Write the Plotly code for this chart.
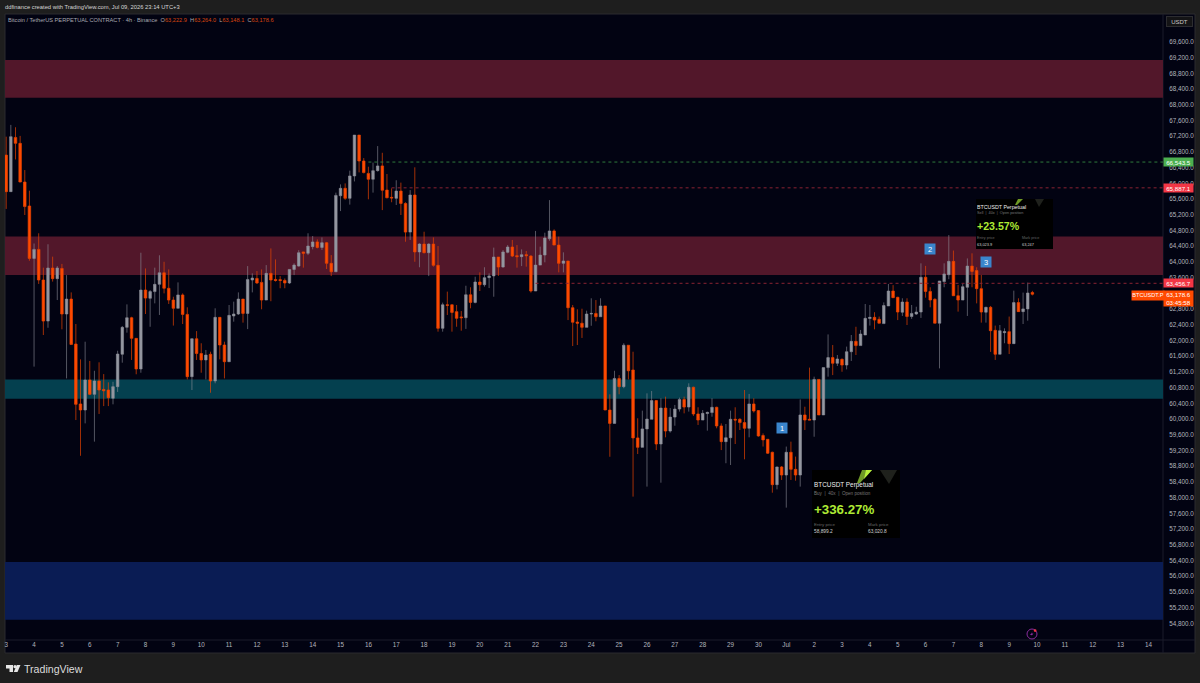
import pandas as pd
import plotly.graph_objects as go
from datetime import datetime, timedelta

# BTCUSDT perpetual, 4h bars starting 3 June 2026
opens = [
    66720, 65790, 67170, 67020, 66035, 65425, 64090, 64320, 63540, 62495,
    63845, 63575, 63835, 62675, 63055, 61910, 60385, 60230, 60995, 60630,
    60970, 60755, 60740, 60530, 60825, 61650, 62335, 62580, 62055, 61275,
    63285, 63075, 63245, 63430, 63725, 63330, 63030, 62820, 63160, 62665,
    61080, 62045, 61670, 61505, 61650, 60970, 62590, 61885, 61460, 62625,
    62675, 63055, 62690, 63540, 63580, 63480, 63030, 63710, 63555, 63550,
    63530, 63465, 63810, 63895, 64255, 64220, 64390, 64510, 64370, 64490,
    63965, 63750, 65685, 65875, 65620, 66190, 67230, 66570, 66255, 66105,
    66325, 66445, 65830, 65645, 65620, 65805, 65490, 64760, 65705, 64255,
    64455, 64235, 64455, 63915, 62310, 62910, 62910, 62735, 62600, 62580,
    63165, 62970, 63490, 63420, 63600, 63645, 64125, 63870, 64245, 64380,
    64160, 64135, 64185, 64150, 63260, 63920, 64175, 64590, 64790, 64430,
    63965, 64025, 62835, 62470, 62440, 62335, 62675, 62690, 62605, 62880,
    60230, 59890, 61035, 60825, 61880, 61250, 59520, 59280, 59750, 59995,
    60470, 59365, 60280, 59695, 60050, 60255, 60500, 60305, 60810, 60130,
    59975, 60140, 60165, 60300, 59825, 59425, 59525, 59995, 59995, 59910,
    59765, 60385, 60215, 59580, 59485, 59155, 58330, 58780, 58575, 59155,
    58720, 58575, 60105, 59995, 59975, 61010, 60105, 61310, 61565, 61420,
    61520, 61375, 61715, 61980, 61870, 62140, 62560, 62590, 62540, 62430,
    62880, 63260, 63100, 62720, 62980, 62610, 62675, 62725, 63610, 63250,
    63050, 62440, 63500, 63675, 64015, 63140, 63030, 63355, 63895, 63780,
    63320, 62720, 62845, 62260, 61650, 62200, 62225, 61920, 62965, 62735,
    62805, 63222.9,
]
highs = [
    67190, 67490, 67430, 67210, 66340, 65815, 64470, 64730, 63855, 64450,
    64135, 63895, 63950, 63665, 63225, 62420, 61520, 61970, 61480, 61230,
    61445, 61145, 60935, 60950, 61740, 62370, 62920, 62605, 62055, 64235,
    63835, 63285, 63855, 64170, 64005, 63810, 63115, 63480, 63200, 62845,
    62055, 62240, 61930, 61760, 61715, 62820, 62590, 61970, 62905, 62990,
    63225, 63055, 63895, 63710, 63770, 63810, 63920, 64345, 64065, 63640,
    63580, 63820, 63965, 64300, 64260, 64730, 64660, 64575, 64625, 64510,
    64175, 65765, 65975, 66000, 66325, 67230, 67230, 66645, 66425, 66530,
    66950, 66780, 66240, 65875, 66080, 66020, 65520, 65830, 66410, 64475,
    64770, 64475, 64625, 64405, 62965, 63245, 62920, 62905, 62750, 63395,
    63355, 63625, 63735, 63865, 63710, 64365, 64125, 64305, 64430, 64560,
    64430, 64320, 64280, 64175, 64790, 64390, 64745, 65575, 64830, 64645,
    64245, 64025, 62905, 62795, 62810, 62760, 63075, 63030, 63075, 62880,
    60630, 61230, 61120, 61930, 61880, 61715, 60020, 60215, 60655, 60715,
    60485, 60530, 60570, 60280, 60360, 60545, 60570, 60910, 60825, 60300,
    60230, 60190, 60530, 60315, 59890, 59875, 60215, 60300, 60020, 60740,
    60640, 60530, 60230, 59635, 59485, 59170, 58790, 58805, 59300, 59425,
    59045, 60500, 60315, 61310, 61080, 61010, 61310, 62155, 61885, 61630,
    61545, 61845, 62140, 62350, 62270, 62930, 62905, 62720, 62610, 62970,
    63440, 63410, 63115, 63075, 63075, 62905, 62860, 63965, 63900, 63355,
    63075, 63515, 63965, 64685, 64290, 63415, 63440, 64090, 64220, 63865,
    63670, 62860, 62880, 62380, 62395, 62310, 62610, 63270, 63075, 63220,
    63475, 63264.0,
]
lows = [
    65350, 65790, 66610, 66030, 65195, 64030, 61335, 63440, 62140, 62325,
    63500, 63030, 62285, 61035, 61900, 59975, 59065, 59890, 60610, 59425,
    60130, 60330, 60330, 60375, 60690, 61435, 62200, 61505, 61140, 61180,
    62675, 62350, 62945, 62650, 63200, 62930, 62380, 62820, 62420, 61010,
    60740, 61505, 61180, 61010, 60670, 60910, 61520, 61035, 61460, 62480,
    62650, 62455, 62290, 63225, 63440, 62795, 63030, 63000, 63500, 63330,
    63330, 63440, 63665, 63880, 63855, 64175, 64320, 64345, 64305, 63820,
    63640, 63750, 65295, 65580, 65460, 66050, 66280, 66255, 65595, 65765,
    66300, 65320, 65620, 65520, 65450, 65195, 64515, 64560, 64005, 63865,
    64220, 63640, 63880, 62225, 62225, 62650, 62225, 62350, 62250, 62295,
    62820, 62945, 63260, 63370, 63335, 63115, 63645, 63855, 64220, 64125,
    63855, 63895, 63880, 63220, 63260, 63920, 63990, 64540, 64430, 63735,
    63735, 62520, 61860, 61885, 62065, 62335, 62375, 62490, 62605, 60230,
    59040, 59890, 60630, 60785, 61010, 58025, 59110, 59280, 58280, 59995,
    59210, 58380, 59535, 59655, 59830, 60190, 60145, 60190, 60080, 59850,
    59975, 59705, 60060, 59765, 59210, 58875, 58830, 59365, 59720, 58975,
    59535, 60165, 59550, 59300, 59110, 58125, 58210, 58450, 57745, 58450,
    58430, 58280, 59720, 59975, 59550, 60105, 60105, 61080, 61120, 61350,
    61205, 61265, 61480, 61630, 61870, 62140, 62380, 62285, 62440, 62430,
    62880, 63090, 62520, 62625, 62395, 62550, 62650, 62575, 63090, 62845,
    62440, 61290, 63355, 63560, 63140, 62735, 63030, 62625, 63355, 62945,
    62455, 62455, 61710, 61505, 61650, 61930, 61655, 61920, 62735, 62420,
    62505, 63148.1,
]
closes = [
    65790, 67190, 67020, 66035, 65410, 64090, 64320, 63540, 62495, 63845,
    63575, 63845, 62675, 63055, 61900, 60375, 60230, 60995, 60630, 60970,
    60740, 60720, 60545, 60825, 61655, 62335, 62580, 62055, 61275, 63285,
    63080, 63245, 63430, 63725, 63330, 63030, 62820, 63160, 62665, 61080,
    62045, 61670, 61505, 61630, 60970, 62590, 61885, 61460, 62640, 62675,
    63055, 62690, 63555, 63590, 63465, 63030, 63710, 63540, 63530, 63530,
    63465, 63810, 63920, 64235, 64220, 64405, 64510, 64370, 64490, 63965,
    63750, 65695, 65875, 65620, 66190, 67230, 66570, 66275, 66105, 66325,
    66445, 65825, 65635, 65630, 65805, 65490, 64760, 65705, 64255, 64455,
    64235, 64455, 63915, 62310, 62910, 62895, 62715, 62565, 62580, 63165,
    62970, 63490, 63420, 63600, 63645, 64125, 63870, 64255, 64380, 64150,
    64135, 64185, 64160, 63260, 63920, 64175, 64610, 64790, 64430, 63965,
    64025, 62835, 62465, 62440, 62335, 62675, 62690, 62605, 62880, 60230,
    59890, 61035, 60825, 61880, 61230, 59520, 59280, 59750, 60000, 60470,
    59365, 60280, 59695, 60050, 60255, 60500, 60305, 60810, 60130, 59975,
    60145, 60170, 60300, 59825, 59425, 59525, 59995, 59975, 59910, 59765,
    60385, 60205, 59570, 59470, 59130, 58330, 58780, 58575, 59155, 58720,
    58575, 60105, 59975, 59975, 61010, 60105, 61310, 61565, 61420, 61530,
    61375, 61715, 61980, 61870, 62165, 62565, 62590, 62520, 62440, 62890,
    63260, 63090, 62725, 62980, 62610, 62690, 62725, 63610, 63250, 63030,
    62440, 63515, 63695, 64015, 63140, 63030, 63370, 63895, 63760, 63320,
    62725, 62845, 62250, 61650, 62250, 62225, 61920, 62965, 62735, 62805,
    63210, 63178.6,
]

# Supply and demand zones as (upper, lower) price bounds
zone_upper_red = (69140, 68180)
zone_mid_red = (64650, 63670)
zone_teal = (61010, 60520)
zone_blue = (56360, 54890)

# Horizontal levels: price, first bar index, line colour, tag colour
level_prices = [66543.5, 65887.1, 63456.7]
level_start_bars = [78, 83, 114]
level_line_colors = ["#2f7a3d", "#8a2333", "#8a2333"]
level_tag_colors = ["#4caf50", "#f23645", "#f23645"]

# Numbered trade markers: bar index, price, label
marker_bars = [167, 199, 211]
marker_prices = [59772, 64342, 64011]
marker_labels = ["1", "2", "3"]

day_labels = [str(d) for d in range(3, 31)] + ["Jul"] + [str(d) for d in range(2, 15)]

# 400-point price grid; 63,200 sits entirely behind the last-price tag
price_ticks = [p for p in range(54800, 69601, 400) if p != 63200]

W, H = 1200, 683
LEFT, RIGHT, TOP, BOTTOM = 5, 1163, 14, 640
BG = "#020312"
FRAME = "#1e1e1e"
LIME = "#aeea34"
TICK = "#b2b5be"
FONT = "Liberation Sans"


def px(x):
    return (x - LEFT) / (RIGHT - LEFT)


def py(y):
    return 1 - (y - TOP) / (BOTTOM - TOP)


def poly(points):
    body = " L ".join(f"{px(a):.5f} {py(b):.5f}" for a, b in points)
    return f"M {body} Z"


bars = pd.date_range("2026-06-03 00:00", periods=len(opens), freq="4h")
day_ticks = pd.date_range("2026-06-03", periods=len(day_labels), freq="D")

# Time axis: one day spans just under 28 pixels, first bar sits 1.2 px inside
origin = datetime(2026, 6, 3)
ms_per_px = 86400000 / 27.86
x_start = origin - timedelta(milliseconds=1.2 * ms_per_px)
x_end = origin + timedelta(milliseconds=(RIGHT - 6.2) * ms_per_px)

fig = go.Figure()
fig.add_trace(go.Candlestick(
    x=bars, open=opens, high=highs, low=lows, close=closes,
    increasing=dict(line=dict(color="#8d8f99", width=0.6), fillcolor="#9598a1"),
    decreasing=dict(line=dict(color="#e84300", width=0.7), fillcolor="#ff4a00"),
    whiskerwidth=0, hoverinfo="skip", showlegend=False,
))

for price, start, color in zip(level_prices, level_start_bars, level_line_colors):
    fig.add_trace(go.Scatter(
        x=[bars[start], x_end], y=[price, price], mode="lines",
        line=dict(color=color, width=1, dash="3px,3px"),
        hoverinfo="skip", showlegend=False,
    ))

shapes = [
    # Chart panel behind the axes
    dict(type="rect", xref="paper", yref="paper", x0=px(5), x1=px(1195), y0=py(653), y1=py(14),
         fillcolor=BG, line=dict(color="#2a2a2e", width=1), layer="below"),
    dict(type="line", xref="paper", yref="paper", x0=px(RIGHT), x1=px(RIGHT), y0=py(653), y1=py(14),
         line=dict(color="#1b1c2a", width=1), layer="below"),
    dict(type="line", xref="paper", yref="paper", x0=px(5), x1=px(1195), y0=py(BOTTOM), y1=py(BOTTOM),
         line=dict(color="#1b1c2a", width=1), layer="below"),
]
for (upper, lower), color in zip(
    [zone_upper_red, zone_mid_red, zone_teal, zone_blue],
    ["#52172a", "#52172a", "#04404f", "#0a1c54"],
):
    shapes.append(dict(type="rect", xref="paper", yref="y", x0=0, x1=1, y0=lower, y1=upper,
                       fillcolor=color, line=dict(width=0), layer="below"))

# Position cards
for x0, x1, y0, y1 in [(812, 900, 470, 538), (976, 1053, 199, 249)]:
    shapes.append(dict(type="rect", xref="paper", yref="paper", x0=px(x0), x1=px(x1), y0=py(y1), y1=py(y0),
                       fillcolor="#000000", line=dict(width=0), layer="above"))
decor = [
    ([(862, 470), (872, 470), (860, 483), (857, 483)], "#6f9a26"),
    ([(866, 470), (872, 470), (864, 479)], "#b8f03c"),
    ([(880, 470), (897, 470), (889, 484)], "#1f211c"),
    ([(1018, 199), (1023, 199), (1017, 205), (1015, 205)], "#6f9a26"),
    ([(1035, 199), (1044, 199), (1039, 207)], "#1f211c"),
    # TradingView mark
    ([(6, 665), (13, 665), (13, 672), (9.5, 672), (9.5, 668.5), (6, 668.5)], "#e6e6e6"),
    ([(20.5, 665), (17.5, 672), (13.8, 672), (16.8, 665)], "#e6e6e6"),
]
for pts, color in decor:
    shapes.append(dict(type="path", xref="paper", yref="paper", path=poly(pts),
                       fillcolor=color, line=dict(width=0), layer="above"))
shapes.append(dict(type="circle", xref="paper", yref="paper", x0=px(13.4), x1=px(16.6), y0=py(668.3), y1=py(665.1),
                   fillcolor="#e6e6e6", line=dict(width=0), layer="above"))

# Alert icon on the time axis
shapes.append(dict(type="circle", xref="paper", yref="paper", x0=px(1027), x1=px(1037), y0=py(639), y1=py(629),
                   fillcolor="rgba(0,0,0,0)", line=dict(color="#8a2c9c", width=1), layer="above"))
shapes.append(dict(type="path", xref="paper", yref="paper",
                   path=poly([(1033, 631), (1030, 635), (1032, 635), (1030.5, 637), (1033.5, 633.5), (1031.5, 633.5)]),
                   fillcolor="#8a2c9c", line=dict(width=0), layer="above"))
shapes.append(dict(type="circle", xref="paper", yref="paper", x0=px(1033.7), x1=px(1036.5), y0=py(632), y1=py(629.2),
                   fillcolor="#f23645", line=dict(width=0), layer="above"))


def text(x, y, s, size, color, anchor="left", weight=None):
    fig.add_annotation(xref="paper", yref="paper", x=px(x - 1), y=py(y), text=s, showarrow=False,
                       xanchor=anchor, yanchor="middle", align=anchor,
                       font=dict(family=FONT, size=size, color=color, weight=weight),
                       borderpad=0)


def tag(x0, x1, y0, y1, s, bg, size=6.2):
    fig.add_annotation(xref="paper", yref="paper", x=px((x0 + x1) / 2), y=py((y0 + y1) / 2), text=s,
                       showarrow=False, xanchor="center", yanchor="middle", align="center",
                       width=x1 - x0, height=y1 - y0, bgcolor=bg, borderpad=0,
                       font=dict(family=FONT, size=size, color="#ffffff"))


# Header lines
text(5, 7, "ddfinance created with TradingView.com, Jul 09, 2026 23:14 UTC+3", 5.8, "#d6d6d6")
orange = "#d9450f"
text(8, 20,
     "Bitcoin / TetherUS PERPETUAL CONTRACT · 4h · Binance &nbsp;"
     f"O<span style='color:{orange}'>63,222.9</span> &nbsp;H<span style='color:{orange}'>63,264.0</span> &nbsp;"
     f"L<span style='color:{orange}'>63,148.1</span> &nbsp;C<span style='color:{orange}'>63,178.6</span>",
     5.65, "#a8a8b0")

# Currency button
fig.add_annotation(xref="paper", yref="paper", x=px(1179.5), y=py(21.5), text="USDT", showarrow=False,
                   xanchor="center", yanchor="middle",
                   width=25, height=9, bgcolor="#141416", bordercolor="#2c2c30", borderwidth=1, borderpad=0,
                   font=dict(family=FONT, size=6, color="#c8c8c8"))

# Price tags on the right axis
for price, color in zip(level_prices, level_tag_colors):
    fig.add_annotation(xref="paper", yref="y", x=px(1178.5), y=price, text=f"{price:,.1f}", showarrow=False,
                       xanchor="center", yanchor="middle",
                       width=29, height=8, bgcolor=color, borderpad=0,
                       font=dict(family=FONT, size=6.2, color="#ffffff"))
tag(1164, 1193, 291, 306, f"{closes[-1]:,.1f}<br>03:45:58", "#ff4a00")
tag(1132, 1164, 291, 299.5, "BTCUSDT.P", "#ff4a00", 5.6)

# Numbered trade markers
for bar, price, label in zip(marker_bars, marker_prices, marker_labels):
    fig.add_annotation(x=bars[bar], y=price, text=label, showarrow=False,
                       xanchor="center", yanchor="middle",
                       width=10, height=10, bgcolor="#3a85cc", borderpad=0,
                       font=dict(family=FONT, size=7.5, color="#ffffff"))

# Position card text
text(814, 485, "BTCUSDT Perpetual", 6.4, "#eeeeee")
text(814, 493, "Buy &nbsp;|&nbsp; 40x &nbsp;|&nbsp; Open position", 4.6, "#777777")
text(814, 509, "+336.27%", 13.3, LIME, weight=700)
text(814, 524.5, "Entry price", 4.4, "#666666")
text(814, 531, "58,899.2", 4.8, "#cfcfcf")
text(868, 524.5, "Mark price", 4.4, "#666666")
text(868, 531, "63,020.8", 4.8, "#cfcfcf")

text(977, 207, "BTCUSDT Perpetual", 5.3, "#eeeeee")
text(977, 213, "Sell &nbsp;|&nbsp; 40x &nbsp;|&nbsp; Open position", 3.8, "#777777")
text(977, 226, "+23.57%", 10.6, LIME, weight=700)
text(977, 238, "Entry price", 3.7, "#666666")
text(977, 244, "63,023.9", 3.9, "#cfcfcf")
text(1022, 238, "Mark price", 3.7, "#666666")
text(1022, 244, "63,247", 3.9, "#cfcfcf")

# Footer wordmark
text(24, 668.5, "TradingView", 10.6, "#dcdcdc")

fig.update_layout(
    width=W, height=H,
    margin=dict(l=LEFT, r=W - RIGHT, t=TOP, b=H - BOTTOM, pad=0),
    paper_bgcolor=FRAME, plot_bgcolor=BG,
    shapes=shapes, showlegend=False, hovermode=False, boxgap=0.22,
    font=dict(family=FONT, size=6.3, color=TICK),
    xaxis=dict(
        type="date", range=[x_start, x_end], rangeslider=dict(visible=False),
        tickmode="array", tickvals=day_ticks, ticktext=day_labels, tickangle=0,
        showgrid=False, zeroline=False, showline=False, ticks="",
        tickfont=dict(family=FONT, size=6.3, color=TICK),
    ),
    yaxis=dict(
        side="right", range=[54375, 70313], tickmode="array", tickvals=price_ticks, tickformat=",.1f",
        showgrid=False, zeroline=False, showline=False, ticks="outside", ticklen=4,
        tickcolor="rgba(0,0,0,0)",
        tickfont=dict(family=FONT, size=6.3, color=TICK),
    ),
)

fig.write_html("out.html", config={"displayModeBar": False})
